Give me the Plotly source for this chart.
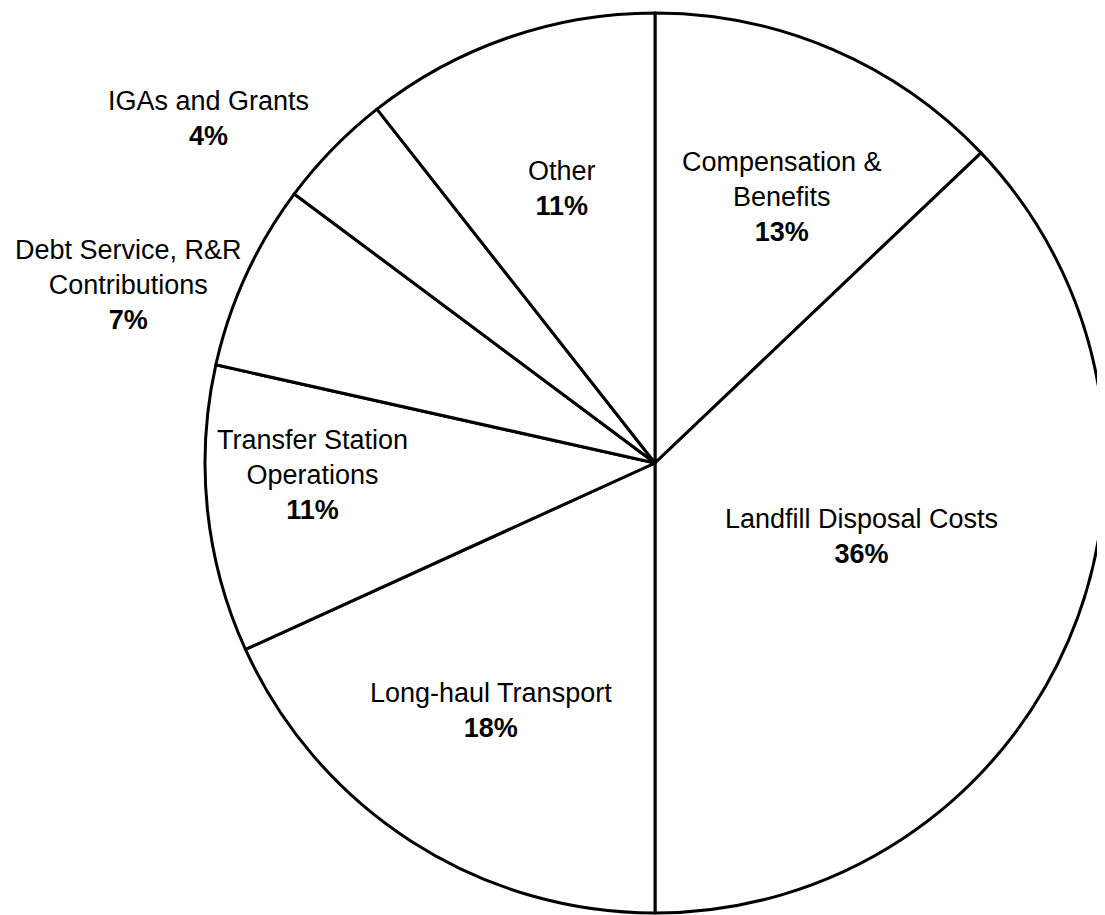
import plotly.graph_objects as go

categories = ["Compensation &<br>Benefits", "Landfill Disposal Costs", "Long-haul Transport",
              "Transfer Station<br>Operations", "Debt Service, R&R<br>Contributions",
              "IGAs and Grants", "Other"]
values = [12.9, 37.1, 18.2, 10.3, 6.7, 4.2, 10.6]
pct_labels = ["13%", "36%", "18%", "11%", "7%", "4%", "11%"]

# label block centres in page pixels (x, y from top)
label_pos = [(782, 197), (862, 536), (491, 710), (313, 475), (128, 285), (208, 118), (562, 188)]

OFF = 8  # default body margin of the html page
W, H = 1105 - OFF, 915 - OFF

def px_x(x):
    return (x - OFF) / W

def px_y(y):
    return 1 - (y - OFF) / H

fig = go.Figure(go.Pie(
    labels=[c.replace("<br>", " ") for c in categories],
    values=values,
    sort=False,
    direction="clockwise",
    rotation=0,
    textinfo="none",
    hoverinfo="label+percent",
    marker=dict(colors=["white"] * len(values), line=dict(color="black", width=3)),
    domain=dict(x=[px_x(205), 1.0], y=[px_y(913), px_y(13)]),
    showlegend=False,
))

for cat, pct, (px, py) in zip(categories, pct_labels, label_pos):
    fig.add_annotation(
        x=px_x(px), y=px_y(py), xref="paper", yref="paper",
        text=f"{cat}<br><b>{pct}</b>", showarrow=False,
        xanchor="center", yanchor="middle", align="center",
        font=dict(family="Liberation Sans, Arial, sans-serif", size=27, color="black"),
    )

fig.update_layout(
    width=W, height=H,
    margin=dict(l=0, r=0, t=0, b=0),
    paper_bgcolor="white", plot_bgcolor="white",
)

fig.write_html("out.html")
